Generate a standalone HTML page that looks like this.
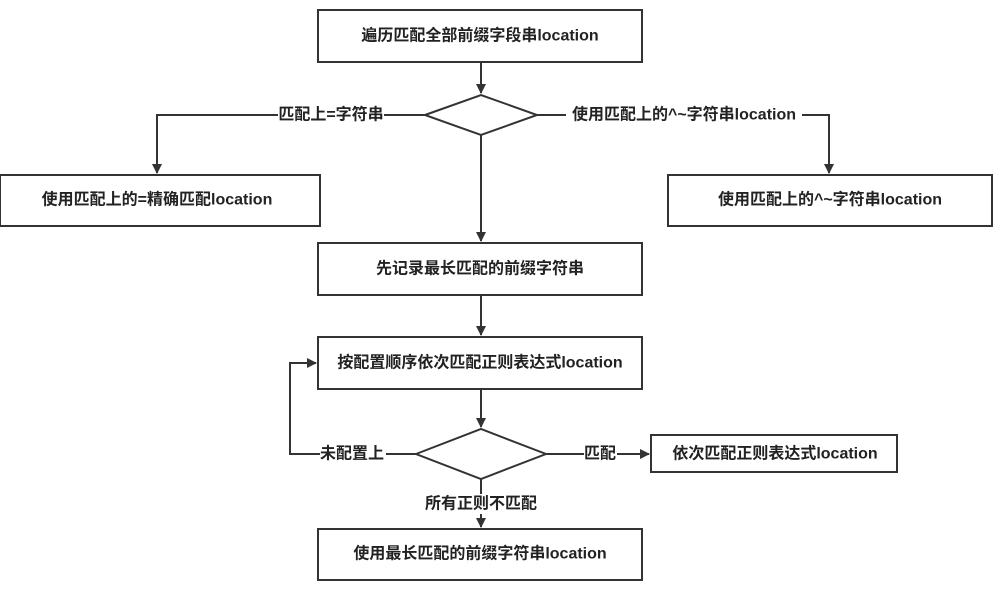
<!DOCTYPE html>
<html><head><meta charset="utf-8"><style>
body{margin:0;background:#fff;}
svg text{font-family:"Liberation Sans","Noto Sans CJK SC",sans-serif;font-size:16px;fill:#222;font-weight:bold;}
</style></head><body>
<svg width="1005" height="592" xmlns="http://www.w3.org/2000/svg">
<defs><marker id="a" markerWidth="10" markerHeight="10" refX="9" refY="5" orient="auto" markerUnits="userSpaceOnUse"><path d="M0,0 L10,5 L0,10 z" fill="#333"/></marker></defs>
<g stroke="#333" stroke-width="2" fill="#fff">
<rect x="318" y="10" width="324" height="52"/>
<polygon points="425,115 481,95 537,115 481,135"/>
<rect x="0" y="175" width="320" height="51"/>
<rect x="668" y="175" width="324" height="51"/>
<rect x="318" y="243" width="324" height="52"/>
<rect x="318" y="337" width="324" height="52"/>
<polygon points="416,454 481,429 546,454 481,479"/>
<rect x="651" y="435" width="246" height="37"/>
<rect x="318" y="529" width="324" height="51"/>
</g>
<g stroke="#333" stroke-width="2" fill="none">
<path d="M481,62 V93" marker-end="url(#a)"/>
<path d="M425,115 H157 V173" marker-end="url(#a)"/>
<path d="M537,115 H829 V173" marker-end="url(#a)"/>
<path d="M481,135 V241" marker-end="url(#a)"/>
<path d="M481,295 V335" marker-end="url(#a)"/>
<path d="M481,389 V427" marker-end="url(#a)"/>
<path d="M416,454 H290 V363 H316" marker-end="url(#a)"/>
<path d="M546,454 H649" marker-end="url(#a)"/>
<path d="M481,479 V527" marker-end="url(#a)"/>
</g>
<g fill="#fff">
<rect x="278" y="106" width="106" height="18"/>
<rect x="566" y="106" width="236" height="18"/>
<rect x="320" y="445" width="66" height="18"/>
<rect x="584" y="445" width="33" height="18"/>
<rect x="424" y="494" width="114" height="20"/>
</g>
<g text-anchor="middle" dominant-baseline="central">
<text x="480" y="36">遍历匹配全部前缀字段串location</text>
<text x="331" y="115">匹配上=字符串</text>
<text x="684" y="115">使用匹配上的^~字符串location</text>
<text x="157" y="200">使用匹配上的=精确匹配location</text>
<text x="830" y="200">使用匹配上的^~字符串location</text>
<text x="480" y="269">先记录最长匹配的前缀字符串</text>
<text x="480" y="363">按配置顺序依次匹配正则表达式location</text>
<text x="352" y="454">未配置上</text>
<text x="600" y="454">匹配</text>
<text x="775" y="454">依次匹配正则表达式location</text>
<text x="481" y="504">所有正则不匹配</text>
<text x="480" y="554">使用最长匹配的前缀字符串location</text>
</g>
</svg>
</body></html>
